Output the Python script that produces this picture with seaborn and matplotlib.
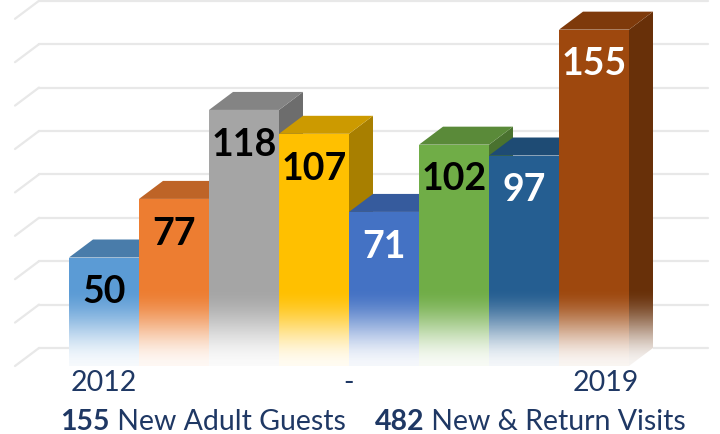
import numpy as np
import matplotlib
matplotlib.use("Agg")
from matplotlib import pyplot as plt
from matplotlib.patches import Polygon
from matplotlib.colors import to_rgb
import pandas as pd
import seaborn as sns

years = ["2012", "2013", "2014", "2015", "2016", "2017", "2018", "2019"]
guests = [50, 77, 118, 107, 71, 102, 97, 155]
bar_colors = ["#5B9BD5", "#ED7D31", "#A5A5A5", "#FFC000",
              "#4472C4", "#70AD47", "#255E91", "#9E480E"]
label_colors = ["black", "black", "black", "black", "white", "black", "white", "white"]
grid_values = [0, 20, 40, 60, 80, 100, 120, 140, 160]
new_guests = 155
total_visits = 482

NAVY = "#1F3864"

sns.set_theme(style="white")
plt.rcParams["font.family"] = ["Lato", "DejaVu Sans"]

# pixel layout helpers (figure is 720x434, axes fill it)
PX_X = 70.0      # px per category
X0_PX = 104.0    # px of first bar centre
PX_Y = 2.17      # px per guest
BASE_PX = 366.0  # baseline, px from top


def xpx(px):
    return (px - X0_PX) / PX_X


def ypx(px):
    return (BASE_PX - px) / PX_Y


fig = plt.figure(figsize=(7.2, 4.34), dpi=100)
ax = fig.add_axes([0, 0, 1, 1])

df = pd.DataFrame({"Year": years, "Guests": guests})
sns.barplot(data=df, x="Year", y="Guests", hue="Year", palette=bar_colors,
            width=1.0, saturation=1, legend=False, linewidth=0, ax=ax)

dx = 24 / PX_X
dy = 18 / PX_Y

# back wall gridlines + left wall diagonals
for v in grid_values:
    ax.plot([xpx(15), xpx(15) + dx], [v, v + dy], color="#E8E8E8", lw=1.6, zorder=1)
    ax.plot([xpx(15) + dx, xpx(708)], [v + dy, v + dy], color="#E8E8E8", lw=1.6, zorder=1)


def shade(c, f):
    r, g, b = to_rgb(c)
    return (r * f, g * f, b * f)


# 3D top and side faces
for i, p in enumerate(ax.patches):
    x0, w, h = p.get_x(), p.get_width(), p.get_height()
    c = bar_colors[i]
    base_z = 10 + 3 * i
    p.set_zorder(base_z + 2)
    side = Polygon([(x0 + w, 0), (x0 + w + dx, dy), (x0 + w + dx, h + dy), (x0 + w, h)],
                   closed=True, facecolor=shade(c, 0.66), edgecolor="none", zorder=base_z)
    top = Polygon([(x0, h), (x0 + w, h), (x0 + w + dx, h + dy), (x0 + dx, h + dy)],
                  closed=True, facecolor=shade(c, 0.8), edgecolor="none", zorder=base_z + 1)
    ax.add_patch(side)
    ax.add_patch(top)

# fade bars into white near the floor
fade_top = 36
n = 300
t = np.linspace(0, 1, n)
alpha = (3 * t ** 2 - 2 * t ** 3) * 0.95
grad = np.ones((n, 1, 4))
grad[:, 0, 3] = alpha
left = ax.patches[0].get_x()
right = ax.patches[len(years) - 1].get_x() + 1.0 + dx
ax.imshow(grad, extent=[left, right, 0, fade_top], aspect="auto", zorder=50,
          interpolation="bilinear", origin="upper")

# value labels
for i, v in enumerate(guests):
    ax.text(i, v - 16, str(v), ha="center", va="center", fontsize=27,
            fontweight="bold", color=label_colors[i], zorder=60)

# year range labels
ax.text(0, ypx(391), years[0], ha="center", va="baseline", fontsize=20.5, color=NAVY)
ax.text(3.5, ypx(391), "-", ha="center", va="baseline", fontsize=20.5, color=NAVY)
ax.text(len(years) - 1 + 0.17, ypx(391), years[-1], ha="center", va="baseline",
        fontsize=20.5, color=NAVY)

# bottom summary
t1 = ax.text(xpx(60), ypx(430), str(new_guests), ha="left", va="baseline",
             fontsize=20.5, fontweight="bold", color=NAVY)
ax.annotate(" New Adult Guests", xy=(1, 0), xycoords=t1, ha="left", va="bottom",
            fontsize=20.5, color=NAVY)
t2 = ax.text(xpx(375), ypx(430), str(total_visits), ha="left", va="baseline",
             fontsize=20.5, fontweight="bold", color=NAVY)
ax.annotate(" New & Return Visits", xy=(1, 0), xycoords=t2, ha="left", va="bottom",
            fontsize=20.5, color=NAVY)

ax.set_xlim(xpx(0), xpx(720))
ax.set_ylim(ypx(434), ypx(0))
ax.axis("off")

fig.savefig("out.png", dpi=100)
